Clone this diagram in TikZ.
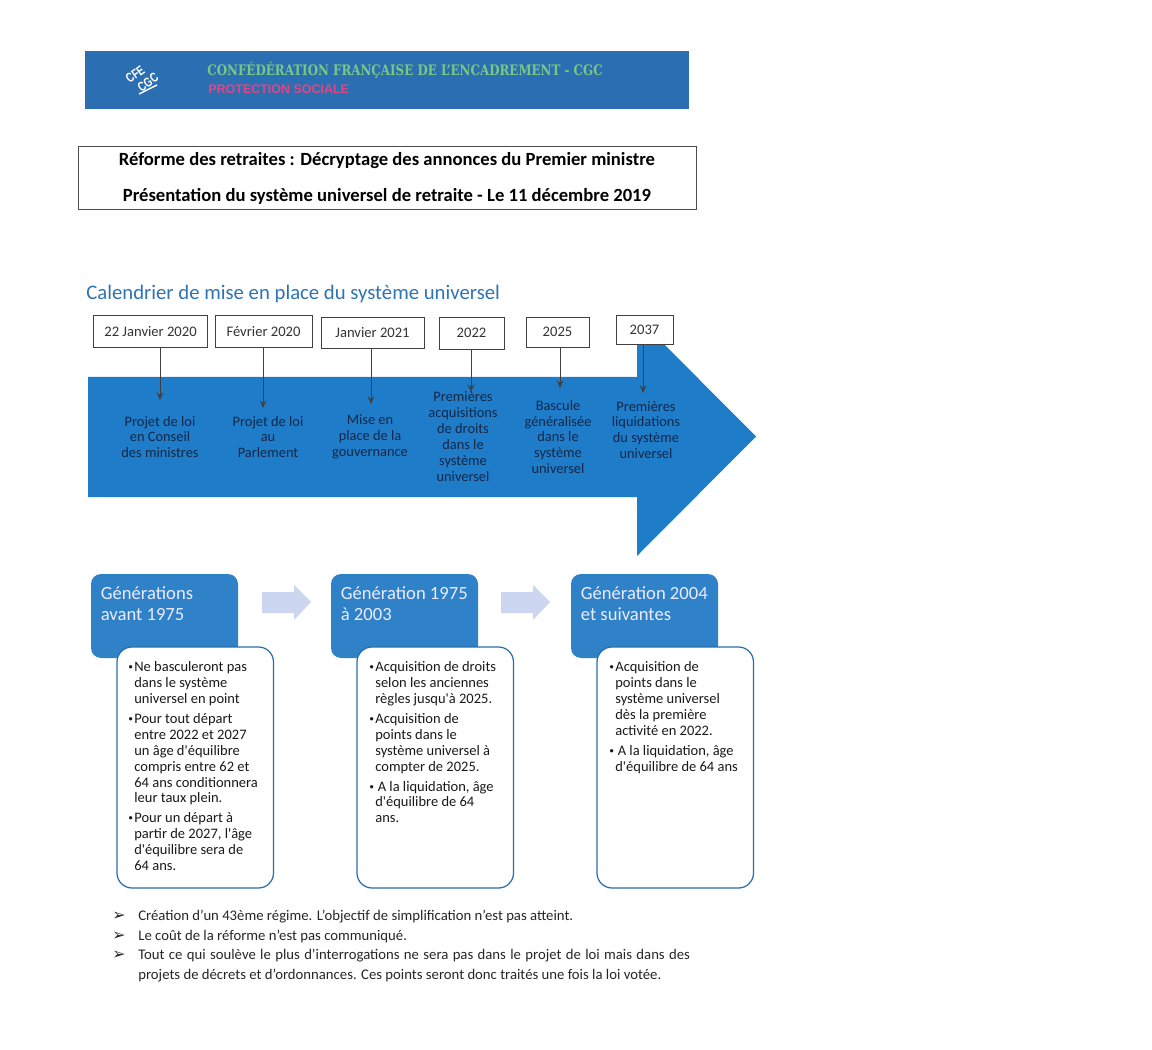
\documentclass[tikz,border=0pt]{standalone}
\usepackage{fontspec}
\setmainfont[Ligatures=TeXOff]{Carlito}
\newfontfamily\slabfont[FakeStretch=0.82]{DejaVu Serif}
\newfontfamily\arialfont{Liberation Sans}
\newfontfamily\logofont[FakeStretch=0.75]{Liberation Sans}
\newfontfamily\symbfont{DejaVu Sans}
\usetikzlibrary{arrows.meta}
\definecolor{bandeau}{RGB}{44,110,178}
\definecolor{fleche}{RGB}{31,124,201}
\definecolor{titre}{RGB}{46,116,181}
\definecolor{encre}{RGB}{18,40,72}
\definecolor{vert}{RGB}{120,200,130}
\definecolor{rose}{RGB}{226,70,130}
\definecolor{genbleu}{RGB}{48,130,200}
\definecolor{lavande}{RGB}{205,214,240}
\tikzset{
  datebox/.style={draw=black!75, fill=white, text=black!80, line width=0.55pt, inner sep=0pt, font=\fontsize{8.3}{9.4}\selectfont},
  etape/.style={align=center, text=encre, inner sep=0pt, font=\fontsize{8.2}{9.07}\selectfont},
  lien/.style={-{Stealth[length=1.5mm,width=1.3mm]}, black!75, line width=0.55pt},
  genbox/.style={fill=genbleu, rounded corners=0.2cm},
  genlbl/.style={anchor=west, align=left, text=white!92!blue, inner sep=0pt, font=\fontsize{10.6}{11.8}\selectfont},
  cadre/.style={draw=genbleu!85!black, fill=white, line width=0.7pt, rounded corners=0.3cm},
  liste/.style={anchor=north west, align=left, text=black!90, inner sep=0pt, font=\fontsize{8.25}{9.07}\selectfont},
  ligne/.style={anchor=base west, text=black!85, inner sep=0pt, font=\fontsize{8.38}{9}\selectfont},
}
\newcommand{\puce}{\llap{\symbfont\fontsize{6.5}{6.5}\selectfont•\kern0.1pt}}
\begin{document}
\begin{tikzpicture}[x=0.02cm,y=-0.02cm]
  \useasboundingbox[fill=white] (0,0) rectangle (1152,1050);
  % bandeau
  \fill[bandeau] (85,51) rectangle (689,109);
  \node[white, rotate=35, align=left, inner sep=0pt, font=\logofont\bfseries\fontsize{7.5}{8}\selectfont] (logo) at (142,78) {CFE\\\kern2.6pt CGC};
  \draw[white, line width=0.8pt] (139,94) -- (157,85);
  \node[anchor=west, text=vert, inner sep=0pt, font=\slabfont\bfseries\fontsize{8.25}{9}\selectfont] (confed) at (207,70) {CONFÉDÉRATION FRANÇAISE DE L’ENCADREMENT - CGC};
  \node[anchor=west, text=rose, inner sep=0pt, font=\arialfont\bfseries\fontsize{7.1}{8}\selectfont] (prot) at (208,89) {PROTECTION SOCIALE};
  % titre
  \draw[black!70, line width=0.5pt] (78,146) rectangle (696,209);
  \node[font=\bfseries\fontsize{10.6}{12}\selectfont, inner sep=0pt] (titrea) at (387,161) {Réforme des retraites : Décryptage des annonces du Premier ministre};
  \node[font=\bfseries\fontsize{10.6}{12}\selectfont, inner sep=0pt] (titreb) at (387,196) {Présentation du système universel de retraite - Le 11 décembre 2019};
  \node[anchor=west, text=titre, inner sep=0pt, font=\fontsize{11.8}{14}\selectfont] (calendrier) at (86,294) {Calendrier de mise en place du système universel};
  % grande fleche
  \fill[fleche] (88,377) -- (637,377) -- (637,317) -- (756,436.5) -- (637,556) -- (637,497) -- (88,497) -- cycle;
  % dates
  \foreach \nom/\cx/\cy/\w/\h/\txt in {
    da/150.5/331.5/114.5/32.5/22 Janvier 2020,
    db/263.5/331.5/97/32.5/Février 2020,
    dc/372.5/332.5/103/31/Janvier 2021,
    dd/471.5/333/65/32/2022,
    de/557.5/332/63/30/2025,
    df/644.5/330.2/57/28.5/2037} {
    \node[datebox, minimum width=\w*0.02cm, minimum height=\h*0.02cm] (\nom) at (\cx,\cy) {\txt};
  }
  % etapes
  \node[etape] (ta) at (160,437) {Projet de loi\\en Conseil\\des ministres};
  \node[etape] (tb) at (268,437) {Projet de loi\\au\\Parlement};
  \node[etape] (tc) at (370,437) {Mise en\\place de la\\gouvernance};
  \node[etape] (td) at (463,436.5) {Premières\\acquisitions\\de droits\\dans le\\système\\universel};
  \node[etape] (te) at (558,437) {Bascule\\généralisée\\dans le\\système\\universel};
  \node[etape] (tf) at (646,430) {Premières\\liquidations\\du système\\universel};
  % liens
  \foreach \d/\px/\py in {da/160/400,db/263/408,dc/371/404,dd/471/392,de/560/388,df/643/393} {
    \coordinate (fin\d) at (\px,\py);
    \draw[lien] (fin\d |- \d.south) -- (fin\d);
  }
  % generations
  \foreach \gx/\nom/\txt in {91/ga/{Générations\\avant 1975},331/gb/{Génération 1975\\à 2003},571/gc/{Génération 2004\\et suivantes}} {
    \fill[genbox] (\gx,574) rectangle (\gx+147,658);
    \node[genlbl] (\nom) at (\gx+9.5,603.5) {\txt};
    \draw[cadre] (\gx+26,647) rectangle (\gx+182.5,888);
  }
  \foreach \fx in {262,501} {
    \fill[lavande] (\fx,592) -- (\fx+32,592) -- (\fx+32,585) -- (\fx+49,602) -- (\fx+32,620) -- (\fx+32,613) -- (\fx,613) -- cycle;
  }
  \node[liste] (la) at (134,661) {\puce Ne basculeront pas\\dans le système\\universel en point\\[2.3pt]
    \puce Pour tout départ\\entre 2022 et 2027\\un âge d'équilibre\\compris entre 62 et\\64 ans conditionnera\\leur taux plein.\\[2.3pt]
    \puce Pour un départ à\\partir de 2027, l'âge\\d'équilibre sera de\\64 ans.};
  \node[liste] (lb) at (375,661) {\puce Acquisition de droits\\selon les anciennes\\règles jusqu'à 2025.\\[2.3pt]
    \puce Acquisition de\\points dans le\\système universel à\\compter de 2025.\\[2.3pt]
    \puce\,A la liquidation, âge\\d'équilibre de 64\\ans.};
  \node[liste] (lc) at (615,661) {\puce Acquisition de\\points dans le\\système universel\\dès la première\\activité en 2022.\\[2.3pt]
    \puce\,A la liquidation, âge\\d'équilibre de 64 ans};
  % remarques
  \foreach \nom/\py in {pa/920,pb/940,pc/959} {
    \node[ligne, font=\symbfont\fontsize{9}{9}\selectfont] (\nom) at (112,\py) {➢};
  }
  \node[ligne] (ra) at (138,920) {Création d’un 43ème régime. L’objectif de simplification n’est pas atteint.};
  \node[ligne] (rb) at (138,940) {Le coût de la réforme n’est pas communiqué.};
  \node[ligne] (rc) at (138,959) {\makebox[314pt][s]{Tout ce qui soulève le plus d’interrogations ne sera pas dans le projet de loi mais dans des}};
  \node[ligne] (rd) at (138,979) {projets de décrets et d’ordonnances. Ces points seront donc traités une fois la loi votée.};
\end{tikzpicture}
\end{document}
